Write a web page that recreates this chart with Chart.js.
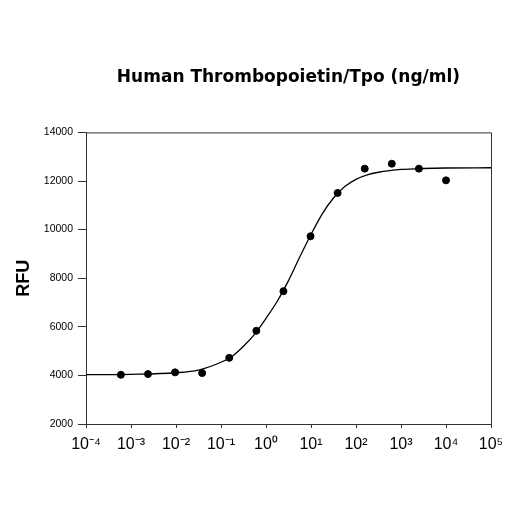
<!DOCTYPE html>
<html>
<head>
<meta charset="utf-8">
<script src="https://cdn.jsdelivr.net/npm/chart.js@4/dist/chart.umd.min.js"></script>
<style>
  body { margin: 0; background: #fff; }
</style>
</head>
<body>
<canvas id="myChart" width="517" height="521"></canvas>
<script>
// measured points (ng/ml, RFU)
const conc = [0.000596, 0.002384, 0.009537, 0.03815, 0.1526, 0.6104, 2.441, 9.766, 39.06, 156.25, 625, 2500, 10000];
const rfu = [4026, 4055, 4125, 4096, 4722, 5835, 7466, 9726, 11507, 12508, 12712, 12508, 12027];

// fitted curve
const curveX = [0.0001, 0.001, 0.01, 0.0316, 0.1, 0.178, 0.316, 0.562, 1, 1.78, 3.16, 5.62, 10, 17.8, 31.6, 56.2, 100, 178, 316, 562, 1000, 3160, 10000, 100000];
const curveY = [4030, 4045, 4110, 4220, 4540, 4790, 5200, 5700, 6350, 7050, 7900, 8870, 9800, 10650, 11300, 11770, 12070, 12250, 12360, 12430, 12475, 12515, 12535, 12545];

const xTickValues = [1e-4, 1e-3, 1e-2, 1e-1, 1e0, 1e1, 1e2, 1e3, 1e4, 1e5];
const xTickLabels = ['10⁻⁴', '10⁻³', '10⁻²', '10⁻¹', '10⁰', '10¹', '10²', '10³', '10⁴', '10⁵'];

const axisColor = '#333';

// top and right edges of the plot frame
const frame = {
  id: 'frame',
  afterDraw(chart) {
    const a = chart.chartArea;
    const c = chart.ctx;
    c.save();
    c.strokeStyle = axisColor;
    c.lineWidth = 1;
    c.beginPath();
    c.moveTo(a.left, a.top + 0.5);
    c.lineTo(a.right + 0.5, a.top + 0.5);
    c.lineTo(a.right + 0.5, a.bottom);
    c.stroke();
    c.restore();
  }
};

const ctx = document.getElementById('myChart').getContext('2d');
const myChart = new Chart(ctx, {
  type: 'scatter',
  data: {
    datasets: [{
      label: 'fit',
      data: curveX.map((x, i) => ({ x: x, y: curveY[i] })),
      showLine: true,
      borderColor: '#000',
      borderWidth: 1.3,
      pointRadius: 0,
      cubicInterpolationMode: 'monotone',
      order: 2
    }, {
      label: 'RFU',
      data: conc.map((x, i) => ({ x: x, y: rfu[i] })),
      backgroundColor: '#000',
      borderColor: '#000',
      pointRadius: 3.5,
      order: 1
    }]
  },
  options: {
    responsive: false,
    animation: false,
    layout: { padding: { left: 0, right: 26, top: 0, bottom: 0 } },
    plugins: {
      legend: { display: false },
      tooltip: { enabled: false },
      title: {
        display: true,
        text: 'Human Thrombopoietin/Tpo (ng/ml)',
        fullSize: false,
        color: '#000',
        font: { family: 'DejaVu Sans', size: 17, weight: 'bold' },
        padding: { top: 67, bottom: 45 }
      }
    },
    scales: {
      x: {
        type: 'logarithmic',
        min: 1e-4,
        max: 1e5,
        afterBuildTicks: function (scale) {
          scale.ticks = xTickValues.map(v => ({ value: v }));
        },
        afterFit: function (scale) {
          scale.height = 97;
        },
        grid: { display: true, drawOnChartArea: false, drawTicks: true, tickLength: 4, color: axisColor },
        border: { color: axisColor },
        ticks: {
          color: '#000',
          padding: 7,
          maxRotation: 0,
          autoSkip: false,
          font: { family: 'Liberation Sans, Arial', size: 16 },
          callback: function (value, index) {
            return xTickLabels[index];
          }
        }
      },
      y: {
        min: 2000,
        max: 14000,
        afterFit: function (scale) {
          scale.width = 86;
        },
        grid: { display: true, drawOnChartArea: false, drawTicks: true, tickLength: 8, color: axisColor },
        border: { color: axisColor },
        ticks: {
          stepSize: 2000,
          color: '#000',
          padding: 5,
          font: { family: 'Liberation Sans, Arial', size: 10.5 },
          callback: function (value) {
            return String(value);
          }
        },
        title: {
          display: true,
          text: 'RFU',
          color: '#000',
          font: { family: 'Liberation Sans, Arial', size: 18, weight: 'bold' },
          padding: { top: 13, bottom: 0 }
        }
      }
    }
  },
  plugins: [frame]
});
</script>
</body>
</html>
